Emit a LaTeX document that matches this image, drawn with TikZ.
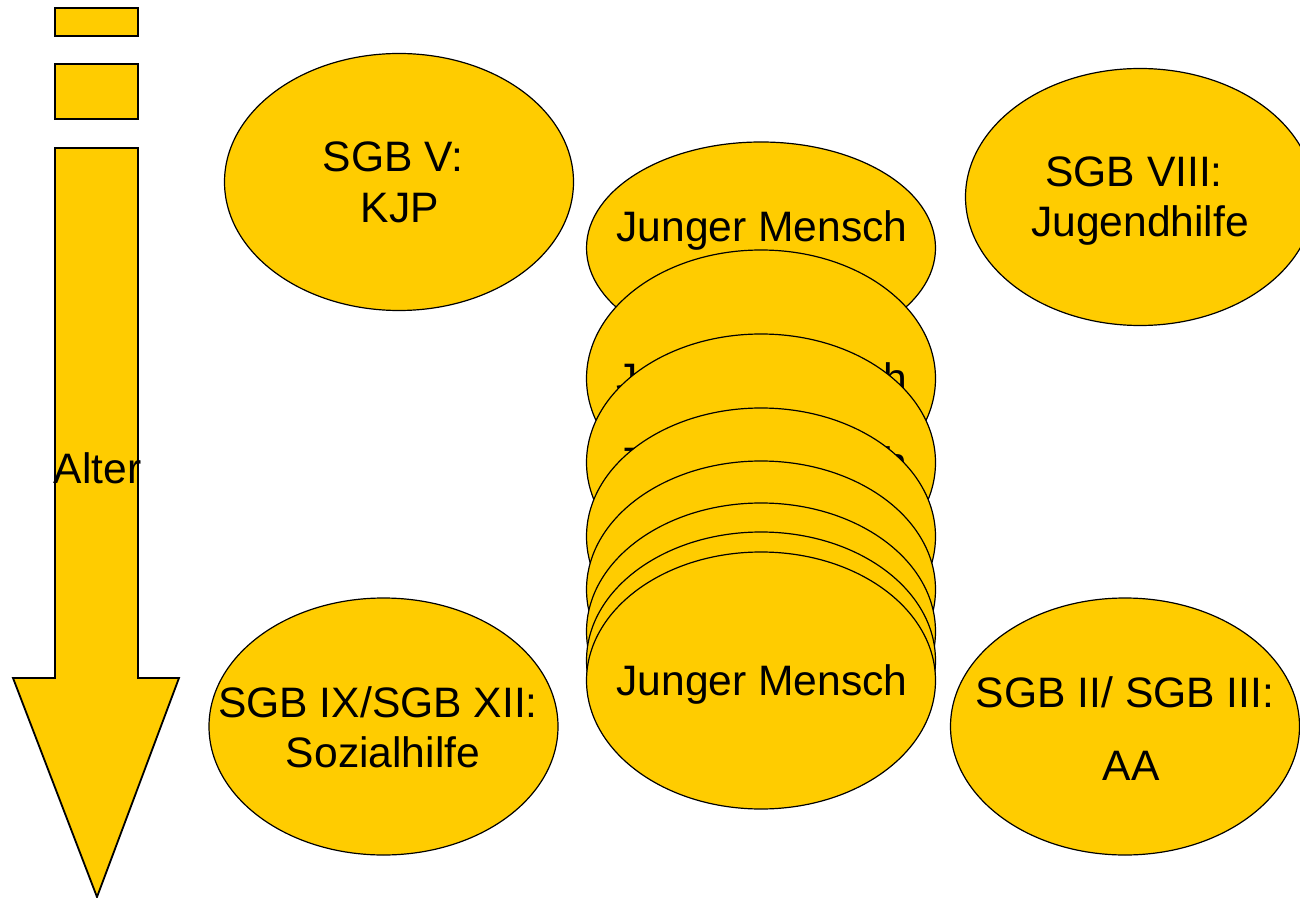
\documentclass[tikz,border=0pt]{standalone}
\usepackage{fontspec}
\setmainfont{Liberation Sans}
\usetikzlibrary{shapes.geometric}
\definecolor{gold}{HTML}{FFCC00}
\begin{document}
\begin{tikzpicture}[x=0.5pt,y=-0.5pt,
  blob/.style={ellipse, draw=black, line width=0.6pt, fill=gold, inner sep=0pt,
               minimum width=174.5pt, minimum height=128.5pt},
  txt/.style={anchor=base, inner sep=0pt, font=\fontsize{21.3}{25}\selectfont},
  bar/.style={draw=black, line width=0.9pt, fill=gold}]
\useasboundingbox (0,0) rectangle (1300,898);

% age arrow with its two tail blocks
\draw[bar] (55,8) rectangle (138,36);
\draw[bar] (55,64) rectangle (138,119);
\draw[bar] (55,148) -- (138,148) -- (138,678) -- (179,678) -- (97,897)
           -- (13,678) -- (55,678) -- cycle;
\node[txt] (alter) at (97.5,483) {Alter};

% benefit systems
\node[blob] (kjp) at (399,182) {};
\node[txt] (kjpA) at (393,172) {SGB V:};
\node[txt] (kjpB) at (400,223) {KJP};

\node[blob] (jh) at (1140,197) {};
\node[txt] (jhA) at (1134,187) {SGB VIII:};
\node[txt] (jhB) at (1140,237) {Jugendhilfe};

\node[blob] (sh) at (383.5,726.5) {};
\node[txt] (shA) at (378,717) {SGB IX/SGB XII:};
\node[txt] (shB) at (383,767) {Sozialhilfe};

\node[blob] (aa) at (1125,726.5) {};
\node[txt] (aaA) at (1125,707) {SGB II/ SGB III:};
\node[txt] (aaB) at (1131,780) {AA};

% stack of young persons, each one covering the one before
\node[blob, minimum height=106pt] (jm1) at (761,248) {};
\node[txt] (jmt1) at (762,242) {Junger Mensch};
\node[blob] (jm2) at (761,378.5) {};
\node[txt] (jmt2) at (762,393.5) {Junger Mensch};
\node[blob] (jm3) at (761,462.5) {};
\node[txt] (jmt3) at (762,477.5) {Junger Mensch};
\foreach \c [count=\i from 4] in {536.5,589.5,631.5,660.5}{
  \node[blob] (jm\i) at (761,\c) {};
}
\node[blob] (jm8) at (761,680.5) {};
\node[txt] (jmt8) at (762,695.5) {Junger Mensch};
\end{tikzpicture}
\end{document}
